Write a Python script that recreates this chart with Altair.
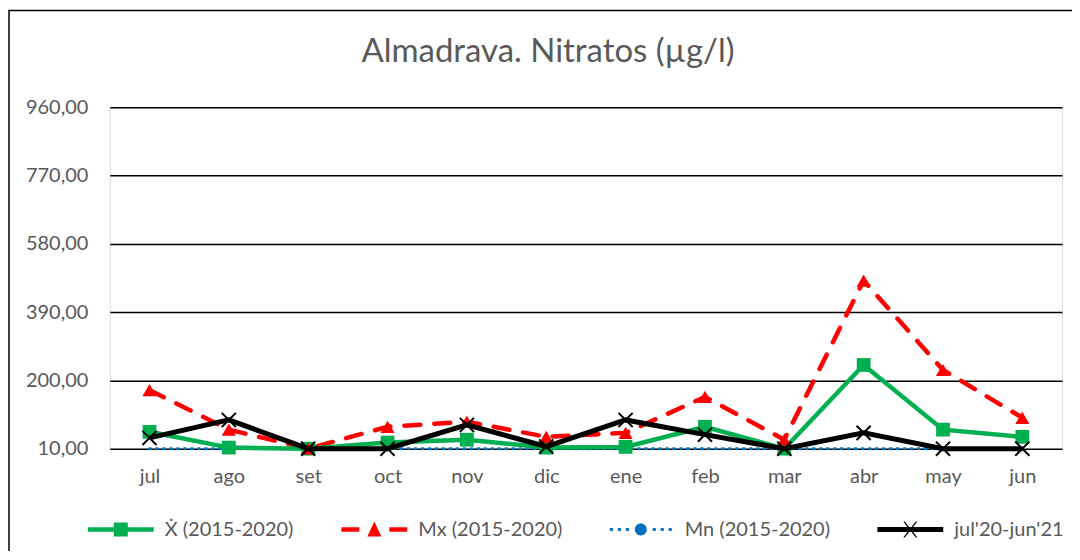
import altair as alt
import pandas as pd

titulo = "Almadrava. Nitratos (µg/l)"
meses = ["jul", "ago", "set", "oct", "nov", "dic", "ene", "feb", "mar", "abr", "may", "jun"]
series = ["Ẋ (2015-2020)", "Mx (2015-2020)", "Mn (2015-2020)", "jul'20-jun'21"]

media = [57, 13, 10, 27, 35, 13, 15, 71, 10, 243, 63, 43]
maximo = [173, 63, 10, 71, 85, 43, 54, 154, 35, 478, 229, 96]
minimo = [10, 10, 10, 10, 10, 10, 10, 10, 10, 10, 10, 10]
actual = [40, 90, 10, 10, 76, 16, 90, 49, 10, 54, 10, 10]

y_ticks = [10, 200, 390, 580, 770, 960]

colores = ["#00B050", "#FF0000", "#0070C0", "#000000"]

rows = []
for s, vals in zip(series, [media, maximo, minimo, actual]):
    for m, v in zip(meses, vals):
        rows.append({"mes": m, "serie": s, "valor": v})
df = pd.DataFrame(rows)

FONT = "Lato"
GRAY = "#595959"
W, H = 954, 342
FS = 20

x_enc = alt.X("mes:N", sort=meses, title=None,
              scale=alt.Scale(padding=0.5),
              axis=alt.Axis(labelAngle=0, labelFontSize=FS, labelColor=GRAY, labelFont=FONT,
                            ticks=False, domain=False, labelPadding=18))
y_enc = alt.Y("valor:Q", title=None,
              scale=alt.Scale(domain=[10, 960], nice=False, zero=False),
              axis=alt.Axis(values=y_ticks, labelFontSize=FS, labelColor=GRAY, labelFont=FONT,
                            labelExpr="replace(format(datum.value, '.2f'), '.', ',')",
                            ticks=False, domain=False, labelPadding=22,
                            grid=True, gridColor="#000000", gridWidth=1.5))

base = alt.Chart(df)


def sel(name):
    return alt.datum.serie == name


mn_line = base.transform_filter(sel(series[2])).mark_line(
    color=colores[2], strokeWidth=3, strokeDash=[1, 6], strokeCap="round").encode(x=x_enc, y=y_enc)
mx_line = base.transform_filter(sel(series[1])).mark_line(
    color=colores[1], strokeWidth=4.5, strokeDash=[16, 14], strokeCap="round").encode(x=x_enc, y=y_enc)
mx_pts = base.transform_filter(sel(series[1])).mark_point(
    shape="triangle-up", filled=True, color=colores[1], size=200, opacity=1).encode(x=x_enc, y=y_enc)
md_line = base.transform_filter(sel(series[0])).mark_line(
    color=colores[0], strokeWidth=4.5).encode(x=x_enc, y=y_enc)
md_pts = base.transform_filter(sel(series[0])).mark_point(
    shape="square", filled=True, color=colores[0], size=190, opacity=1).encode(x=x_enc, y=y_enc)
ac_line = base.transform_filter(sel(series[3])).mark_line(
    color=colores[3], strokeWidth=5).encode(x=x_enc, y=y_enc)
ac_pts = base.transform_filter(sel(series[3])).mark_point(
    shape="M-1,-1L1,1M-1,1L1,-1", filled=False, color=colores[3], size=200,
    strokeWidth=2, opacity=1).encode(x=x_enc, y=y_enc)

# legend symbols: line + marker drawn as one custom path
leg_shapes = [
    "M-3.3,-0.22H3.3V0.22H-3.3Z M-0.7,-0.7H0.7V0.7H-0.7Z",
    "M-3.3,-0.22H-1.5V0.22H-3.3Z M1.5,-0.22H3.3V0.22H1.5Z M0,-0.8L0.7,0.7L-0.7,0.7Z",
    "M-3.1,-0.15H-2.8V0.15H-3.1Z M-2.3,-0.15H-2.0V0.15H-2.3Z M-1.5,-0.15H-1.2V0.15H-1.5Z "
    "M1.2,-0.15H1.5V0.15H1.2Z M2.0,-0.15H2.3V0.15H2.0Z M2.8,-0.15H3.1V0.15H2.8Z "
    "M-0.6,0A0.6,0.6 0 1,0 0.6,0A0.6,0.6 0 1,0 -0.6,0Z",
    "M-3.3,-0.25H3.3V0.25H-3.3Z M-0.7,-0.8L-0.55,-0.8L0,-0.1L0.55,-0.8L0.7,-0.8L0.1,0L0.7,0.8L0.55,0.8L0,0.1L-0.55,0.8L-0.7,0.8L-0.1,0Z",
]

legend_layer = base.transform_filter("false").mark_point(filled=True, opacity=1, size=400).encode(
    x=x_enc, y=y_enc,
    color=alt.Color("serie:N", scale=alt.Scale(domain=series, range=colores),
                    legend=alt.Legend(title=None, orient="none", direction="horizontal",
                                      legendX=1, legendY=413, symbolSize=400,
                                      symbolStrokeWidth=0, symbolOpacity=1,
                                      labelFontSize=FS, labelColor=GRAY, labelFont=FONT,
                                      labelOffset=34, columnPadding=47)),
    shape=alt.Shape("serie:N", scale=alt.Scale(domain=series, range=leg_shapes), legend=None),
)

frame = alt.Chart(alt.Data(values=[{"a": 1}])).mark_rect(
    fill="transparent", stroke="#000000", strokeWidth=1.5, clip=False).encode(
    x=alt.value(-101), x2=alt.value(W + 40), y=alt.value(-97), y2=alt.value(H + 200))

title_mark = alt.Chart(alt.Data(values=[{"t": titulo}])).mark_text(
    font=FONT, fontSize=33, color=GRAY, align="center", baseline="alphabetic", clip=False).encode(
    text="t:N", x=alt.value(439), y=alt.value(-45))

chart = alt.layer(frame, title_mark, mn_line, mx_line, md_line, md_pts, mx_pts, ac_line, ac_pts,
                  legend_layer).properties(
    width=W, height=H,
    autosize=alt.AutoSizeParams(type="none"),
    padding={"left": 102, "top": 99, "right": 10, "bottom": 102},
).configure_view(stroke="#000000", strokeWidth=1.5).configure(background="white")

chart.save("out.html", embed_options={"renderer": "svg", "actions": False})
